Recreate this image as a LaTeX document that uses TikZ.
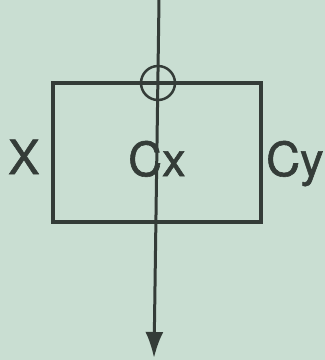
\documentclass[tikz,border=0pt]{standalone}
\usepackage{fontspec}
\setmainfont{TeX Gyre Heros}
\newfontfamily\lblfont[FakeBold=1.2]{TeX Gyre Heros}
\usetikzlibrary{arrows.meta}
\definecolor{paper}{RGB}{201,222,210}
\definecolor{ink}{RGB}{52,60,56}

\begin{document}
\begin{tikzpicture}[x=1pt, y=-1pt,
  blk/.style={rectangle, draw=ink, line width=3.5pt, minimum width=208pt,
              minimum height=139pt, inner sep=0pt},
  junc/.style={circle, draw=ink, line width=2.5pt, minimum size=34pt, inner sep=0pt},
  lbl/.style={text=ink, font=\lblfont\fontsize{47}{56}\selectfont, inner sep=0pt, anchor=base west},
  arrow/.style={-{Latex[length=26pt,width=18pt]}, line width=3pt, draw=ink}
]
%% Background
\fill[paper] (0,0) rectangle (325,360);
\useasboundingbox (0,0) rectangle (325,360);

%% Block and summing point
\node[blk]  at (157,152.5) (box) {};
\node[junc] at (158,83)    (sum) {};

%% Labels
\node[lbl] at (8,174)   (xin) {X};
\node[lbl] at (128,176) (cx)  {Cx};
\node[lbl] at (266,176) (cy)  {Cy};

%% Signal line
\coordinate (top) at (159,0);
\coordinate (end) at (154,358);
\draw[arrow] (top) -- (end);
\end{tikzpicture}
\end{document}
